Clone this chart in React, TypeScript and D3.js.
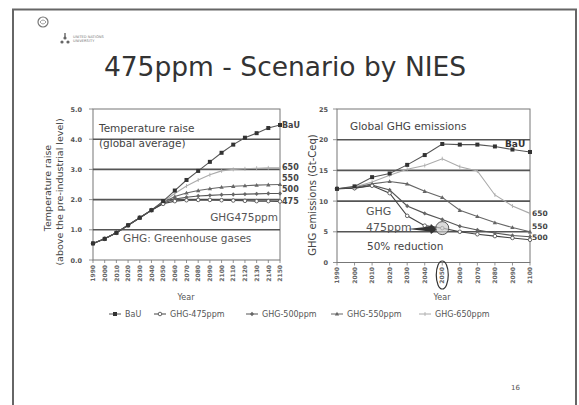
import React from "react";
import * as d3 from "d3";

const leftYears = [1990, 2000, 2010, 2020, 2030, 2040, 2050, 2060, 2070, 2080, 2090, 2100, 2110, 2120, 2130, 2140, 2150];
const tBaU = [0.55, 0.7, 0.9, 1.15, 1.4, 1.65, 1.95, 2.3, 2.65, 2.95, 3.25, 3.55, 3.82, 4.05, 4.2, 4.37, 4.47];
const t650 = [0.55, 0.7, 0.9, 1.15, 1.4, 1.65, 1.93, 2.2, 2.45, 2.65, 2.82, 2.95, 3.0, 3.02, 3.04, 3.05, 3.05];
const t550 = [0.55, 0.7, 0.9, 1.15, 1.4, 1.65, 1.9, 2.1, 2.22, 2.3, 2.36, 2.41, 2.44, 2.46, 2.48, 2.49, 2.5];
const t500 = [0.55, 0.7, 0.9, 1.15, 1.4, 1.65, 1.88, 2.02, 2.08, 2.12, 2.14, 2.16, 2.17, 2.18, 2.19, 2.2, 2.2];
const t475 = [0.55, 0.7, 0.9, 1.15, 1.4, 1.65, 1.86, 1.95, 1.98, 1.99, 1.99, 1.98, 1.97, 1.96, 1.95, 1.95, 1.94];
const leftTicks = [0, 1, 2, 3, 4, 5];

const rightYears = [1990, 2000, 2010, 2020, 2030, 2040, 2050, 2060, 2070, 2080, 2090, 2100];
const eBaU = [12, 12.4, 13.9, 14.5, 15.9, 17.5, 19.3, 19.2, 19.2, 18.9, 18.4, 18.0];
const e650 = [12, 12.3, 13.1, 14.2, 15.2, 15.8, 16.9, 15.6, 14.9, 11.0, 9.2, 8.0];
const e550 = [12, 12.2, 12.8, 13.2, 12.8, 11.6, 10.6, 8.5, 7.5, 6.5, 5.7, 5.0];
const e500 = [12, 12.1, 12.6, 11.8, 9.2, 8.0, 7.0, 5.9, 5.3, 4.8, 4.4, 4.2];
const e475 = [12, 12.1, 12.5, 11.3, 7.6, 6.0, 5.6, 5.0, 4.6, 4.3, 4.0, 3.7];
const rightTicks = [0, 5, 10, 15, 20, 25];

const legendLabels = ["BaU", "GHG-475ppm", "GHG-500ppm", "GHG-550ppm", "GHG-650ppm"];
const endLabelsLeft = ["BaU", "650", "550", "500", "475"];
const endLabelsRight = ["650", "550", "500"];

const FONT = "DejaVu Sans, Verdana, sans-serif";

type Style = { stroke: string; width: number; marker: string; fill: string };
const styles: Style[] = [
  { stroke: "#555", width: 1.1, marker: "square", fill: "#333" },
  { stroke: "#444", width: 1.1, marker: "circle", fill: "#555" },
  { stroke: "#555", width: 1.1, marker: "diamond", fill: "#666" },
  { stroke: "#666", width: 1.1, marker: "triangle", fill: "#666" },
  { stroke: "#aaa", width: 1.1, marker: "tick", fill: "#aaa" },
];

function Marker({ x, y, s }: { x: number; y: number; s: Style }) {
  if (s.marker === "square") return <rect x={x - 2} y={y - 2} width={4} height={4} fill={s.fill} />;
  if (s.marker === "circle") return <circle cx={x} cy={y} r={1.8} fill="#fff" stroke={s.fill} strokeWidth={0.9} />;
  if (s.marker === "diamond") return <path d={`M${x},${y - 2.2}L${x + 2},${y}L${x},${y + 2.2}L${x - 2},${y}Z`} fill={s.fill} />;
  if (s.marker === "triangle") return <path d={`M${x},${y - 2.2}L${x + 2.2},${y + 1.6}L${x - 2.2},${y + 1.6}Z`} fill={s.fill} />;
  return <line x1={x} x2={x} y1={y - 2} y2={y + 2} stroke={s.fill} strokeWidth={0.8} />;
}

function Series({ xs, ys, x, y, s }: { xs: number[]; ys: number[]; x: any; y: any; s: Style }) {
  const line = d3.line<number>().x((_, i) => x(xs[i])).y((v) => y(v));
  return (
    <g>
      <path d={line(ys) || ""} fill="none" stroke={s.stroke} strokeWidth={s.width} />
      {ys.map((v, i) => (
        <Marker key={i} x={x(xs[i])} y={y(v)} s={s} />
      ))}
    </g>
  );
}

export default function App() {
  const W = 579, H = 405;
  const lx = d3.scaleLinear().domain([1990, 2150]).range([93, 280]);
  const ly = d3.scaleLinear().domain([0, 5]).range([260, 109]);
  const rx = d3.scaleLinear().domain([1990, 2100]).range([337, 530]);
  const ry = d3.scaleLinear().domain([0, 25]).range([262.5, 109]);

  const leftSeries = [tBaU, t475, t500, t550, t650];
  const rightSeries = [eBaU, e475, e500, e550, e650];
  const drawOrder = [4, 3, 2, 1, 0];

  const legendX = [115, 160, 252, 337, 425];

  return (
    <svg width={W} height={H} style={{ position: "fixed", left: 0, top: 0, background: "#fff" }} fontFamily={FONT}>
      <rect x={0} y={0} width={W} height={H} fill="#fff" />
      <rect x={13} y={9.5} width={563} height={400} fill="none" stroke="#666" strokeWidth={2} />

      <circle cx={43} cy={22} r={5} fill="none" stroke="#777" strokeWidth={1.2} />
      <path d="M40,22 Q43,18 46,22 Q43,26 40,22" fill="none" stroke="#888" strokeWidth={0.8} />
      <g fill="#666">
        <circle cx={65} cy={38} r={1.6} />
        <circle cx={62} cy={42} r={1.6} />
        <circle cx={68} cy={42} r={1.6} />
        <rect x={64.3} y={33} width={1.4} height={6} />
      </g>
      <text x={73} y={38} fontSize={3.6} fill="#777">UNITED NATIONS</text>
      <text x={73} y={42} fontSize={3.6} fill="#777">UNIVERSITY</text>

      <text x={285} y={76} textAnchor="middle" fontSize={26.5} fill="#333" fontFamily={FONT}>475ppm - Scenario by NIES</text>

      {/* LEFT CHART */}
      <rect x={93} y={109} width={187} height={151} fill="#fff" stroke="#777" strokeWidth={1} />
      {leftTicks.filter((t) => t > 0 && t < 5).map((t) => (
        <line key={t} x1={93} x2={280} y1={ly(t)} y2={ly(t)} stroke="#555" strokeWidth={1.6} />
      ))}
      {leftTicks.map((t) => (
        <g key={t}>
          <line x1={89} x2={93} y1={ly(t)} y2={ly(t)} stroke="#777" strokeWidth={0.8} />
          <text x={82} y={ly(t) + 2.5} textAnchor="end" fontSize={6.5} fontWeight="bold" fill="#555">{d3.format(".1f")(t)}</text>
        </g>
      ))}
      {leftYears.map((yr) => (
        <g key={yr}>
          <line x1={lx(yr)} x2={lx(yr)} y1={260} y2={263} stroke="#777" strokeWidth={0.8} />
          <text transform={`translate(${lx(yr) + 2.2},${265}) rotate(-90)`} textAnchor="end" fontSize={6} fontWeight="bold" fill="#666">{yr}</text>
        </g>
      ))}
      <text x={186} y={300} textAnchor="middle" fontSize={8} fill="#555">Year</text>
      <text transform="translate(51,188) rotate(-90)" textAnchor="middle" fontSize={9.5} fill="#444">Temperature raise</text>
      <text transform="translate(63,192) rotate(-90)" textAnchor="middle" fontSize={9.5} fill="#444">(above the pre-industrial level)</text>

      <text x={99} y={132} fontSize={10.5} fill="#444">Temperature raise</text>
      <text x={99} y={147} fontSize={10.5} fill="#444">(global average)</text>
      <text x={278} y={221} textAnchor="end" fontSize={10.5} fill="#555">GHG475ppm</text>
      <text x={123} y={242} fontSize={10.5} fill="#555">GHG: Greenhouse gases</text>

      {drawOrder.map((k) => (
        <Series key={k} xs={leftYears} ys={leftSeries[k]} x={lx} y={ly} s={styles[k]} />
      ))}
      {endLabelsLeft.map((lab, i) => (
        <text key={lab} x={282} y={[128, 170, 181, 192, 204][i]} fontSize={8} fontWeight="bold" fill="#444">{lab}</text>
      ))}

      {/* RIGHT CHART */}
      <rect x={337} y={109} width={193} height={153.5} fill="#fff" stroke="#777" strokeWidth={1} />
      {rightTicks.filter((t) => t > 0 && t < 25).map((t) => (
        <line key={t} x1={337} x2={530} y1={ry(t)} y2={ry(t)} stroke="#555" strokeWidth={1.6} />
      ))}
      {rightTicks.map((t) => (
        <g key={t}>
          <line x1={333} x2={337} y1={ry(t)} y2={ry(t)} stroke="#777" strokeWidth={0.8} />
          <text x={328} y={ry(t) + 2.5} textAnchor="end" fontSize={6.5} fontWeight="bold" fill="#555">{t}</text>
        </g>
      ))}
      {rightYears.map((yr) => (
        <g key={yr}>
          <line x1={rx(yr)} x2={rx(yr)} y1={262.5} y2={265.5} stroke="#777" strokeWidth={0.8} />
          <text transform={`translate(${rx(yr) + 2.2},${267}) rotate(-90)`} textAnchor="end" fontSize={6} fontWeight="bold" fill="#666">{yr}</text>
        </g>
      ))}
      <text x={442} y={300} textAnchor="middle" fontSize={8} fill="#555">Year</text>
      <text transform="translate(316,195) rotate(-90)" textAnchor="middle" fontSize={10} fill="#444">GHG emissions (Gt-Ceq)</text>

      <text x={350} y={130} fontSize={10.5} fill="#444">Global GHG emissions</text>
      <text x={366} y={215} fontSize={11} fill="#555">GHG</text>
      <text x={366} y={231} fontSize={11} fill="#555">475ppm</text>
      <text x={367} y={250} fontSize={10.5} fill="#444">50% reduction</text>

      {drawOrder.map((k) => (
        <Series key={k} xs={rightYears} ys={rightSeries[k]} x={rx} y={ry} s={styles[k]} />
      ))}
      <text x={505} y={147} fontSize={9} fontWeight="bold" fill="#333">BaU</text>
      {endLabelsRight.map((lab, i) => (
        <text key={lab} x={532} y={[216, 229, 240][i]} fontSize={7.5} fontWeight="bold" fill="#444">{lab}</text>
      ))}

      <path d={`M408,229 L430,226.5 L431,224 L437,229.5 L431,234 L430,231.5 Z`} fill="#333" />
      <circle cx={rx(2050)} cy={ry(5.6)} r={6.5} fill="#ccc" fillOpacity={0.7} stroke="#555" strokeWidth={1} />
      <ellipse cx={rx(2050)} cy={275} rx={6} ry={14} fill="none" stroke="#333" strokeWidth={1.2} />

      {legendLabels.map((lab, i) => (
        <g key={lab}>
          <line x1={legendX[i] - 6} x2={legendX[i] + 6} y1={314} y2={314} stroke={styles[i].stroke} strokeWidth={1} />
          <Marker x={legendX[i]} y={314} s={styles[i]} />
          <text x={legendX[i] + 10} y={317} fontSize={8} fill="#555">{lab}</text>
        </g>
      ))}

      <text x={511} y={390} fontSize={7} fill="#555">16</text>
    </svg>
  );
}
